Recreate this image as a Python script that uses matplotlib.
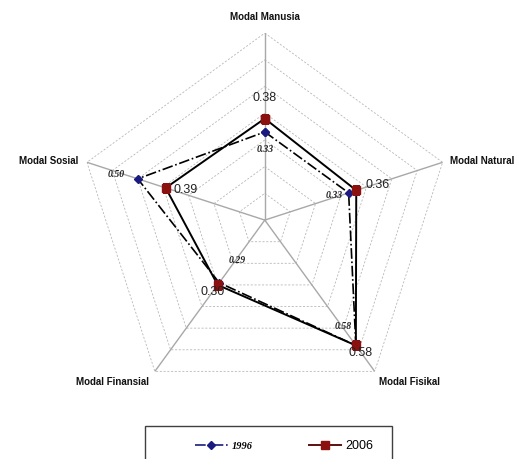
import numpy as np
import matplotlib
matplotlib.use("Agg")
import matplotlib.pyplot as plt
from matplotlib.lines import Line2D
from matplotlib.patches import Rectangle

categories = ["Modal Manusia", "Modal Natural", "Modal Fisikal", "Modal Finansial", "Modal Sosial"]
values_1996 = [0.33, 0.33, 0.58, 0.29, 0.50]
values_2006 = [0.38, 0.36, 0.58, 0.30, 0.39]
ring_values = [0.1, 0.2, 0.3, 0.4, 0.5, 0.6, 0.7]

plt.rcParams['font.family'] = ['Liberation Sans', 'DejaVu Sans']

fig = plt.figure(figsize=(5.22, 4.59), dpi=100)
ax = fig.add_axes([0.149, 0.113, 0.7165, 0.815], projection='polar')
ax.set_theta_offset(np.pi / 2)
ax.set_theta_direction(-1)
ax.set_ylim(0, max(ring_values))
ax.set_axis_off()

angles = np.arange(len(categories)) * 2 * np.pi / len(categories)
closed = np.append(angles, angles[0])

# pentagon grid
for v in ring_values:
    ax.plot(closed, [v] * len(closed), color='#b8b8b8', lw=0.6, ls=(0, (2.5, 2)), zorder=1)
for a in angles:
    ax.plot([a, a], [0, max(ring_values)], color='#a8a8a8', lw=1.0, zorder=1)

# series
ax.plot(closed, values_1996 + values_1996[:1], color='black', lw=1.2, ls='-.',
        marker='D', ms=4.5, mfc='#1a1a80', mec='#1a1a80', zorder=3)
ax.plot(closed, values_2006 + values_2006[:1], color='black', lw=1.4, ls='-',
        marker='s', ms=6, mfc='#8b1010', mec='#8b1010', zorder=4)

# value labels
off_2006 = [(0, 21, 'center'), (9, 5, 'left'), (5, -8, 'center'), (-5, -7, 'center'), (8, -2, 'left')]
off_1996 = [(0, -18, 'center'), (-6, -3, 'right'), (-13, 19, 'center'), (18, 22, 'center'), (-13, 4, 'right')]
for a, v, (dx, dy, ha) in zip(angles, values_2006, off_2006):
    ax.annotate(f"{v:.2f}", xy=(a, v), xytext=(dx, dy), textcoords='offset pixels',
                ha=ha, va='center', fontsize=9, color='#222222', zorder=5)
for a, v, (dx, dy, ha) in zip(angles, values_1996, off_1996):
    ax.annotate(f"{v:.2f}", xy=(a, v), xytext=(dx, dy), textcoords='offset pixels',
                ha=ha, va='center', fontsize=7, color='#222222', family='Liberation Serif',
                style='italic', weight='bold', zorder=5)

# category labels
off_cat = [(0, 16, 'center'), (7, 1, 'left'), (4, -11, 'left'), (-6, -11, 'right'), (-9, 1, 'right')]
for a, name, (dx, dy, ha) in zip(angles, categories, off_cat):
    ax.annotate(name, xy=(a, max(ring_values)), xytext=(dx, dy), textcoords='offset pixels',
                ha=ha, va='center', fontsize=7, weight='bold', color='#111111')

# legend
fig.add_artist(Rectangle((145 / 522, -0.05), 247 / 522, 0.05 + 33 / 459, transform=fig.transFigure,
                         fill=False, edgecolor='#404040', lw=1.0))
handles = [Line2D([], [], color='#1a1a80', lw=1.2, ls='-.', marker='D', ms=4.5),
           Line2D([], [], color='#5a1010', lw=1.4, marker='s', ms=6, mfc='#8b1010', mec='#8b1010')]
leg = fig.legend(handles, ['1996', '2006'], loc='center', bbox_to_anchor=(0.544, 0.028),
                 ncol=2, frameon=False, fontsize=9, handlelength=2.6, handletextpad=0.3,
                 columnspacing=4.5, numpoints=1)
leg.get_texts()[0].set_fontfamily('Liberation Serif')
leg.get_texts()[0].set_fontstyle('italic')
leg.get_texts()[0].set_fontweight('bold')
leg.get_texts()[0].set_fontsize(7.5)

plt.savefig('out.png', dpi=100)
